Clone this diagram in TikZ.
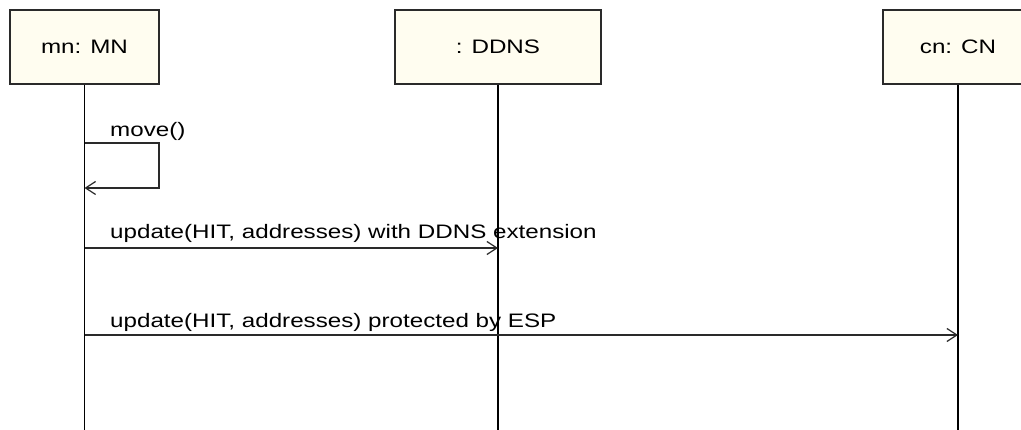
\documentclass[tikz,border=0pt]{standalone}
\usepackage{fontspec}
\setmainfont{Liberation Sans}
\usetikzlibrary{arrows.meta}
\newcommand\wtxt[1]{\scalebox{1.24}[1]{#1}}
\definecolor{headfill}{HTML}{FFFDF0}
\definecolor{edge}{HTML}{2A2A2A}
\tikzset{
  head/.style={draw=edge, fill=headfill, line width=1.5pt, rectangle,
    minimum height=74pt, inner sep=0pt,
    font=\fontsize{19.5}{22}\selectfont},
  life/.style={draw=black, line width=1.3pt},
  msg/.style={draw=edge, line width=1.5pt,
    -{Straight Barb[length=10pt,width=13pt,line width=1.2pt]}},
  msglabel/.style={anchor=base west, inner sep=0pt,
    font=\fontsize{19.5}{22}\selectfont}
}
\begin{document}
\begin{tikzpicture}[x=1pt,y=-1pt]
\useasboundingbox (0,0) rectangle (1021,430);
\fill[white] (0,0) rectangle (1021,430);

% object heads
\node[head, minimum width=149pt] (mn) at (84.5,47) {\wtxt{mn: MN}\hspace{12pt}};
\node[head, minimum width=206pt] (dd) at (498,47) {\wtxt{: DDNS}\hspace{11pt}};
\node[head, minimum width=150pt] (cn) at (958,47) {\wtxt{cn: CN}\hspace{13pt}};

% lifeline ends
\coordinate (mnend) at (mn.south |- 0,432);
\coordinate (ddend) at (dd.south |- 0,432);
\coordinate (cnend) at (cn.south |- 0,432);
\draw[life] (mn.south) -- (mnend);
\draw[life] (dd.south) -- (ddend);
\draw[life] (cn.south) -- (cnend);

% self message move()
\coordinate (mvA) at (mn.south |- 0,143);
\coordinate (mvB) at (mn.south |- 0,188);
\draw[msg] (mvA) -- (159,143) -- (159,188) -- (mvB);
\node[msglabel] (mvl) at (110,137) {\wtxt{move()}};

% update to DDNS
\coordinate (u1a) at (mn.south |- 0,248);
\coordinate (u1b) at (dd.south |- 0,248);
\draw[msg] (u1a) -- (u1b);
\node[msglabel] (u1l) at (110,239) {\wtxt{update(HIT, addresses) with DDNS extension}};

% update to CN
\coordinate (u2a) at (mn.south |- 0,335);
\coordinate (u2b) at (cn.south |- 0,335);
\draw[msg] (u2a) -- (u2b);
\node[msglabel] (u2l) at (110,328) {\wtxt{update(HIT, addresses) protected by ESP}};
\end{tikzpicture}
\end{document}
